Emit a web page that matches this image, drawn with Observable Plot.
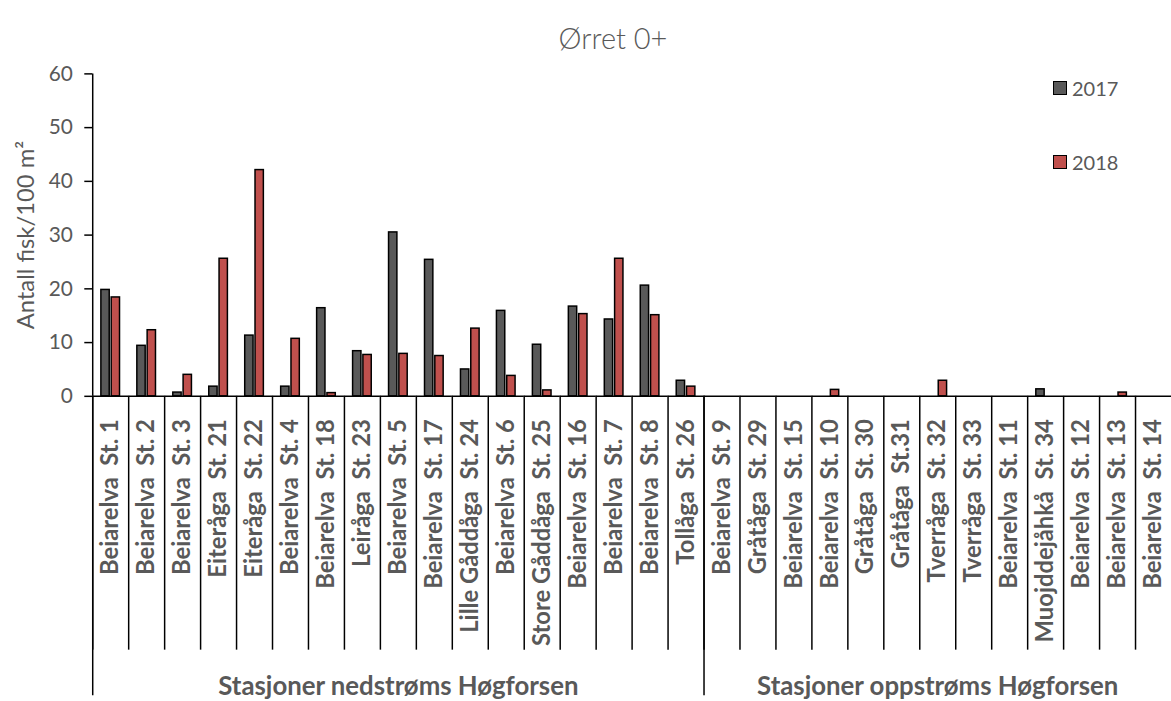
<!DOCTYPE html>
<html><head><meta charset="utf-8">
<script src="https://cdn.jsdelivr.net/npm/d3@7"></script>
<script src="https://cdn.jsdelivr.net/npm/@observablehq/plot@0.6"></script>
<style>
html,body{margin:0;padding:0;background:#fff;overflow:hidden;}
#wrap{position:relative;width:1171px;height:701px;overflow:hidden;font-family:Lato,"Open Sans",sans-serif;color:#595959;}
#title{position:absolute;left:0;top:0;width:1226px;height:76px;line-height:76px;text-align:center;font-size:29px;font-weight:300;color:#595959;}
#chart{position:absolute;left:0;top:60px;}
#chart svg text{white-space:pre;}
#chart g[aria-label="y-axis label"] text{font-size:24px;}
.item{position:absolute;left:1053px;display:flex;align-items:center;font-size:20px;color:#595959;}
.sw{display:inline-block;width:12px;height:12px;border:1.6px solid #000;margin-right:5px;}
</style></head><body>
<div id="wrap">
  <div id="title">Ørret 0+</div>
  <div id="chart"></div>
  <div id="legend"></div>
</div>
<script>
const stations = [
  "Beiarelva  St. 1","Beiarelva  St. 2","Beiarelva  St. 3","Eiteråga  St. 21","Eiteråga  St. 22",
  "Beiarelva  St. 4","Beiarelva  St. 18","Leiråga  St. 23","Beiarelva  St. 5","Beiarelva  St. 17",
  "Lille Gåddåga  St. 24","Beiarelva  St. 6","Store Gåddåga  St. 25","Beiarelva  St. 16","Beiarelva  St. 7",
  "Beiarelva  St. 8","Tollåga  St. 26",
  "Beiarelva  St. 9","Gråtåga  St. 29","Beiarelva  St. 15","Beiarelva  St. 10","Gråtåga  St. 30",
  "Gråtåga  St.31","Tverråga  St. 32","Tverråga  St. 33","Beiarelva  St. 11","Muojddejåhkå  St. 34",
  "Beiarelva  St. 12","Beiarelva  St. 13","Beiarelva  St. 14"
];
const values2017 = [19.8, 9.4, 0.7, 1.8, 11.3, 1.8, 16.4, 8.4, 30.5, 25.4, 5.0, 15.9, 9.6, 16.7, 14.3, 20.6, 2.9,
  0, 0, 0, 0, 0, 0, 0, 0, 0, 1.3, 0, 0, 0];
const values2018 = [18.4, 12.3, 4.0, 25.6, 42.1, 10.7, 0.6, 7.7, 7.9, 7.5, 12.6, 3.8, 1.1, 15.3, 25.6, 15.1, 1.8,
  0, 0, 0, 1.2, 0, 0, 2.9, 0, 0, 0, 0, 0.7, 0];
const years = ["2017", "2018"];
const yearColors = ["#595959", "#C0504D"];
const groupNames = ["Stasjoner nedstrøms Høgforsen", "Stasjoner oppstrøms Høgforsen"];
const groupFirst = ["Beiarelva  St. 1", "Beiarelva  St. 9"];
const groupMiddle = ["Beiarelva  St. 5", "Tverråga  St. 32"];
const yTicks = [0, 10, 20, 30, 40, 50, 60];
const yLabel = "Antall fisk/100 m²";

const rows = stations.flatMap((s, i) => [
  {station: s, year: years[0], value: values2017[i]},
  {station: s, year: years[1], value: values2018[i]}
]);
const groups = groupNames.map((name, i) => ({name, mid: groupMiddle[i]}));

const W = 1181, ML = 93, MR = 0, H = 641, MT = 13.5, MB = 302.3;
const step = (W - ML - MR) / stations.length;

const chart = Plot.plot({
  width: W, height: H, marginLeft: ML, marginRight: MR, marginTop: MT, marginBottom: MB,
  style: {fontFamily: "Lato, 'Open Sans', sans-serif", background: "white", overflow: "visible"},
  fx: {domain: stations, padding: 0, round: false, label: null},
  x: {domain: years, paddingInner: 0.19, paddingOuter: 0.84, round: false, axis: null},
  y: {domain: [0, 60], ticks: yTicks},
  color: {domain: years, range: yearColors},
  marks: [
    Plot.barY(rows, {fx: "station", x: "year", y: "value", fill: "year", stroke: "black", strokeWidth: 1.5, filter: d => d.value > 0}),
    Plot.ruleY([0], {stroke: "black", strokeWidth: 1.5}),
    Plot.ruleX([stations[0]], {fx: d => d, x: null, y1: 0, y2: 60, dx: -step / 2, stroke: "black", strokeWidth: 1.5}),
    Plot.axisY({ticks: yTicks, tickSize: 8, tickPadding: 12, fontSize: 21, fill: "#595959", stroke: "black", strokeWidth: 1.5,
      label: yLabel, labelAnchor: "center", labelArrow: false, labelOffset: 76}),
    Plot.axisFx({anchor: "bottom", tickSize: 256, dx: -step / 2, fill: "none", stroke: "black", strokeWidth: 1.5, label: null}),
    Plot.axisFx({anchor: "bottom", ticks: groupFirst, tickSize: 302, dx: -step / 2, fill: "none", stroke: "black", strokeWidth: 1.5, label: null}),
    Plot.axisFx({anchor: "bottom", tickSize: 0, tickPadding: 23, tickRotate: -90, fontSize: 24, fontWeight: "bold", fill: "#595959", label: null}),
    Plot.text(groups, {fx: "mid", text: "name", frameAnchor: "bottom", dy: 301, fontSize: 26, fontWeight: "bold", fill: "#595959"})
  ]
});
document.getElementById("chart").appendChild(chart);

const legend = document.getElementById("legend");
years.forEach((y, i) => {
  const item = document.createElement("div");
  item.className = "item";
  item.style.top = (76 + i * 74) + "px";
  const sw = document.createElement("span");
  sw.className = "sw";
  sw.style.background = yearColors[i];
  item.appendChild(sw);
  item.appendChild(document.createTextNode(y));
  legend.appendChild(item);
});
</script>
</body></html>
